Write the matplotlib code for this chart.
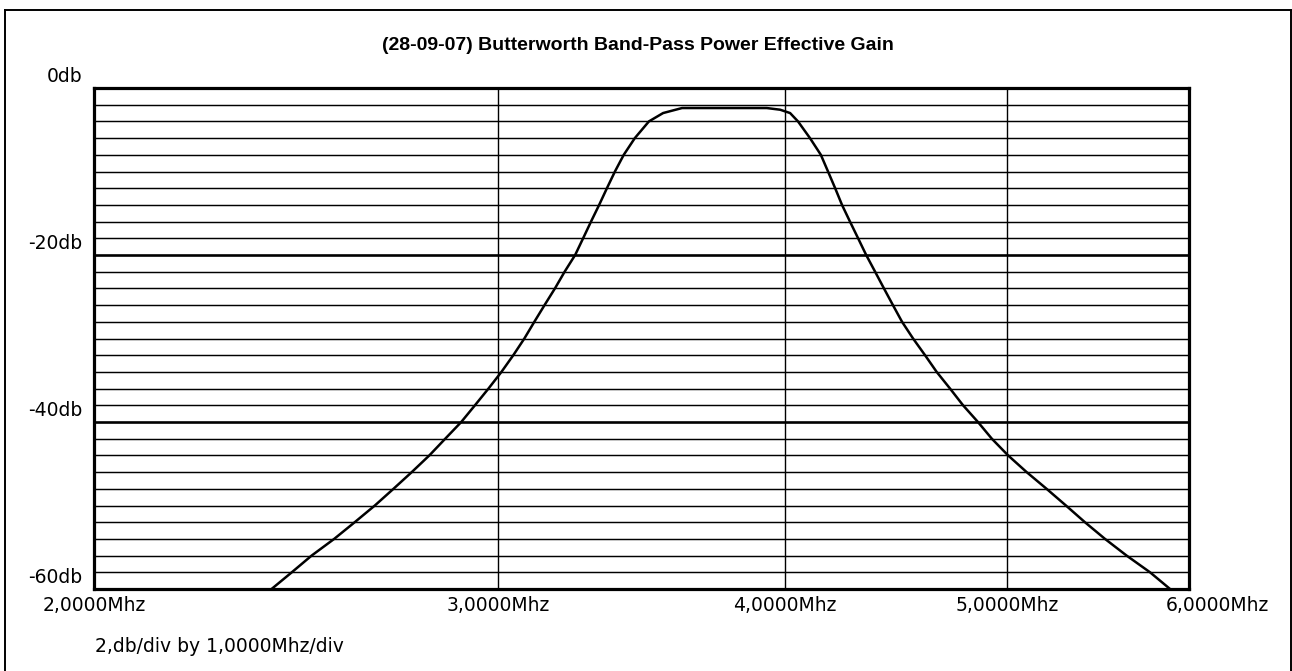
import matplotlib
matplotlib.use("Agg")
import matplotlib.pyplot as plt
import matplotlib.transforms as mtransforms
from matplotlib.lines import Line2D

# curve (frequency in MHz, gain in dB)
freq_mhz = [2.390, 2.439, 2.488, 2.545, 2.598, 2.651, 2.701, 2.751, 2.800, 2.845,
            2.891, 2.931, 2.971, 3.010, 3.046, 3.080, 3.111, 3.143, 3.176, 3.207,
            3.241, 3.267, 3.293, 3.320, 3.346, 3.373, 3.403, 3.441, 3.490, 3.540,
            3.608, 3.674, 3.748, 3.824, 3.928,
            3.981, 4.021, 4.053, 4.102, 4.147, 4.177, 4.207, 4.236, 4.270, 4.305,
            4.340, 4.379, 4.418, 4.458, 4.499, 4.549, 4.604, 4.658, 4.721, 4.783,
            4.855, 4.923, 5.004, 5.098, 5.201, 5.303, 5.405, 5.515, 5.636, 5.770,
            5.887]
gain_db = [-60, -58, -56, -54, -52, -50, -48, -46, -44, -42,
           -40, -38, -36, -34, -32, -30, -28, -26, -24, -22,
           -20, -18, -16, -14, -12, -10, -8, -6, -4, -3.0,
           -2.4, -2.4, -2.4, -2.4, -2.4,
           -2.6, -3.0, -4, -6, -8, -10, -12, -14, -16, -18,
           -20, -22, -24, -26, -28, -30, -32, -34, -36, -38,
           -40, -42, -44, -46, -48, -50, -52, -54, -56, -58,
           -60]

title = "(28-09-07) Butterworth Band-Pass Power Effective Gain"
x_ticks = [2, 3, 4, 5, 6]
x_tick_labels = ["2,0000Mhz", "3,0000Mhz", "4,0000Mhz", "5,0000Mhz", "6,0000Mhz"]
y_ticks = [0, -20, -40, -60]
y_tick_labels = ["0db", "-20db", "-40db", "-60db"]
footnote = "2,db/div by 1,0000Mhz/div"

W, H = 1292, 671
fig = plt.figure(figsize=(W / 100, H / 100), dpi=100)
fig.patch.set_facecolor("white")

# outer frame (bottom edge runs off the picture)
frame_kw = dict(color="black", linewidth=1.4, transform=fig.transFigure)
fig.add_artist(Line2D([5 / W, 5 / W], [0, 1 - 10 / H], **frame_kw))
fig.add_artist(Line2D([5 / W, 1291 / W], [1 - 10 / H, 1 - 10 / H], **frame_kw))
fig.add_artist(Line2D([1291 / W, 1291 / W], [0, 1 - 10 / H], **frame_kw))

ax = fig.add_axes([94 / W, 1 - 589 / H, (1189 - 94) / W, (589 - 88) / H])
ax.set_xscale("log")
ax.set_xlim(2, 6)
ax.set_ylim(-60, 0)

# horizontal grid every 2 dB, heavier every 20 dB
for v in range(-58, 0, 2):
    heavy = v % 20 == 0
    ax.axhline(v, color="black", linewidth=1.9 if heavy else 1.05, zorder=1)
for f in x_ticks[1:-1]:
    ax.axvline(f, color="black", linewidth=1.0, zorder=1)

ax.plot(freq_mhz, gain_db, color="black", linewidth=1.8, zorder=3,
        solid_joinstyle="round")

for s in ax.spines.values():
    s.set_linewidth(2.3)
    s.set_color("black")
ax.set_xticks([])
ax.set_yticks([])
ax.xaxis.set_minor_locator(matplotlib.ticker.NullLocator())

font = 13.5
# y labels sit just above their grid line, to the left of the plot box
ylab_tr = mtransforms.blended_transform_factory(ax.transAxes, ax.transData)
ylab_tr = ylab_tr + mtransforms.ScaledTranslation(-12 / 100, 2 / 100, fig.dpi_scale_trans)
for v, lab in zip(y_ticks, y_tick_labels):
    ax.text(0, v, lab, transform=ylab_tr, ha="right", va="bottom", fontsize=font)

# x labels centred under ticks, last one pushed right as in the original
xlab_tr = mtransforms.blended_transform_factory(ax.transData, ax.transAxes)
for i, (f, lab) in enumerate(zip(x_ticks, x_tick_labels)):
    dx = 28 if i == len(x_ticks) - 1 else 0
    tr = xlab_tr + mtransforms.ScaledTranslation(dx / 100, -7 / 100, fig.dpi_scale_trans)
    ax.text(f, 0, lab, transform=tr, ha="center", va="top", fontsize=font)

fig.text(638 / W, 1 - 46 / H, title, ha="center", va="center",
         fontsize=14, fontweight="bold", family="Liberation Sans")
fig.text(95 / W, 1 - 646 / H, footnote, ha="left", va="center", fontsize=font)

fig.savefig("out.png", dpi=100, facecolor="white")
